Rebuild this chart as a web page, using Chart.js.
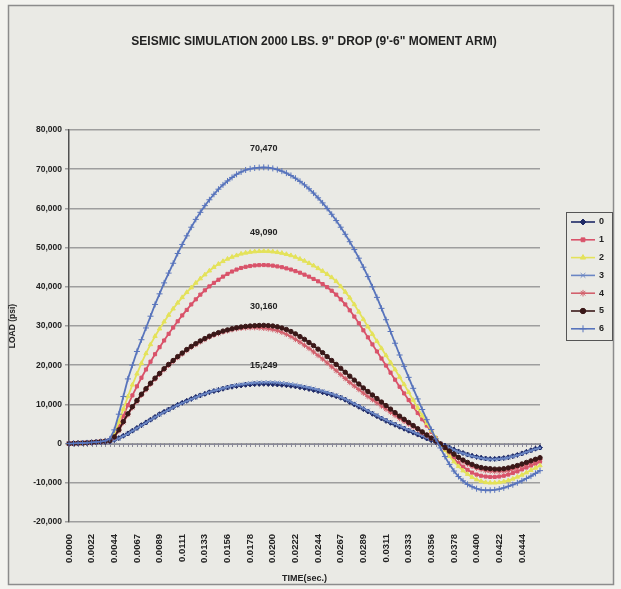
<!DOCTYPE html>
<html>
<head>
<meta charset="utf-8">
<title>Seismic Simulation</title>
<script src="https://cdn.jsdelivr.net/npm/chart.js@4/dist/chart.umd.min.js"></script>
<style>
    body { margin: 0; background: #f3f3ef; }
    #seismicChart { display: block; }
</style>
</head>
<body>
<canvas id="seismicChart" width="621" height="589"></canvas>
<script>
        // time steps (sec.), one every 1/2250 s
        const timeLabels = [
            '0.0000','0.0004','0.0009','0.0013','0.0018','0.0022','0.0027','0.0031','0.0036','0.0040',
            '0.0044','0.0049','0.0053','0.0058','0.0062','0.0067','0.0071','0.0076','0.0080','0.0084',
            '0.0089','0.0093','0.0098','0.0102','0.0107','0.0111','0.0116','0.0120','0.0124','0.0129',
            '0.0133','0.0138','0.0142','0.0147','0.0151','0.0156','0.0160','0.0164','0.0169','0.0173',
            '0.0178','0.0182','0.0187','0.0191','0.0196','0.0200','0.0204','0.0209','0.0213','0.0218',
            '0.0222','0.0227','0.0231','0.0236','0.0240','0.0244','0.0249','0.0253','0.0258','0.0262',
            '0.0267','0.0271','0.0276','0.0280','0.0284','0.0289','0.0293','0.0298','0.0302','0.0307',
            '0.0311','0.0316','0.0320','0.0324','0.0329','0.0333','0.0338','0.0342','0.0347','0.0351',
            '0.0356','0.0360','0.0364','0.0369','0.0373','0.0378','0.0382','0.0387','0.0391','0.0396',
            '0.0400','0.0404','0.0409','0.0413','0.0418','0.0422','0.0427','0.0431','0.0436','0.0440',
            '0.0444','0.0449','0.0453','0.0458','0.0462'
        ];

        // LOAD (psi) for each case
        const load0 = [
            0, 50, 100, 150, 200, 250, 300, 350, 400, 550,
            900, 1400, 2000, 2600, 3300, 4000, 4700, 5400, 6100, 6800,
            7500, 8100, 8700, 9300, 9900, 10400, 10900, 11400, 11900, 12300,
            12700, 13100, 13400, 13700, 14000, 14300, 14500, 14700, 14850, 15000,
            15100, 15180, 15230, 15249, 15220, 15170, 15100, 15000, 14900, 14750,
            14600, 14400, 14200, 13950, 13700, 13400, 13100, 12800, 12450, 12100,
            11700, 11200, 10600, 10000, 9400, 8800, 8200, 7600, 7000, 6400,
            5800, 5300, 4800, 4300, 3800, 3300, 2800, 2300, 1800, 1300,
            850, 400, 0, -500, -1000, -1500, -2000, -2400, -2800, -3100,
            -3400, -3600, -3800, -3900, -3900, -3800, -3700, -3500, -3200, -2900,
            -2500, -2100, -1700, -1300, -1000
        ];
        const load1 = [
            0, 50, 100, 150, 200, 300, 400, 500, 600, 900,
            2000, 4300, 7000, 9800, 12300, 14600, 16800, 18900, 20900, 22800,
            24600, 26300, 28000, 29600, 31200, 32700, 34100, 35500, 36800, 38000,
            39100, 40100, 41000, 41800, 42600, 43300, 43900, 44400, 44800, 45100,
            45300, 45450, 45520, 45550, 45500, 45400, 45200, 45000, 44700, 44400,
            44000, 43600, 43100, 42600, 42000, 41400, 40700, 39900, 39000, 38000,
            36800, 35500, 34000, 32400, 30700, 28900, 27100, 25300, 23500, 21700,
            19900, 18100, 16300, 14500, 12800, 11100, 9400, 7800, 6200, 4600,
            3000, 1400, -100, -1400, -2700, -3900, -5000, -5900, -6700, -7400,
            -7900, -8200, -8400, -8500, -8500, -8400, -8200, -7900, -7500, -7100,
            -6600, -6100, -5600, -5100, -4600
        ];
        const load2 = [
            0, 50, 100, 150, 200, 300, 400, 500, 600, 1000,
            2500, 5500, 8800, 12000, 15000, 17800, 20500, 23000, 25300, 27400,
            29300, 31100, 32800, 34400, 35900, 37300, 38600, 39800, 41000, 42100,
            43100, 44100, 45000, 45800, 46500, 47100, 47600, 48000, 48400, 48650,
            48850, 48980, 49060, 49090, 49050, 48950, 48800, 48600, 48300, 48000,
            47600, 47100, 46600, 46000, 45400, 44700, 44000, 43200, 42400, 41400,
            40100, 38700, 37200, 35500, 33600, 31700, 29800, 27900, 26100, 24300,
            22500, 20700, 18900, 17000, 15100, 13100, 11100, 9100, 7100, 5200,
            3300, 1500, -200, -1700, -3200, -4600, -5800, -6900, -7800, -8600,
            -9200, -9600, -9900, -10000, -10000, -9900, -9700, -9400, -9000, -8500,
            -8000, -7400, -6800, -6200, -5600
        ];
        const load3 = [
            0, 50, 100, 150, 200, 250, 300, 350, 400, 500,
            800, 1300, 1900, 2500, 3200, 3900, 4600, 5300, 6000, 6700,
            7400, 8000, 8600, 9200, 9800, 10300, 10800, 11300, 11800, 12300,
            12700, 13100, 13500, 13800, 14100, 14400, 14700, 14900, 15100, 15250,
            15400, 15500, 15550, 15600, 15620, 15600, 15550, 15450, 15300, 15150,
            14950, 14750, 14500, 14250, 14000, 13700, 13400, 13050, 12700, 12300,
            11850, 11350, 10800, 10200, 9600, 9000, 8400, 7800, 7200, 6600,
            6000, 5500, 5000, 4500, 4000, 3500, 3000, 2500, 2000, 1500,
            1000, 500, 0, -600, -1100, -1600, -2100, -2500, -2900, -3200,
            -3500, -3700, -3900, -4000, -4000, -3900, -3800, -3600, -3300, -3000,
            -2600, -2200, -1800, -1400, -1100
        ];
        const load4 = [
            0, 50, 100, 150, 200, 300, 400, 500, 600, 800,
            1600, 3300, 5400, 7400, 9200, 10800, 12400, 13800, 15200, 16500,
            17700, 18900, 20000, 21000, 22000, 22900, 23800, 24600, 25300, 26000,
            26600, 27200, 27700, 28100, 28500, 28800, 29100, 29300, 29450, 29550,
            29600, 29600, 29550, 29450, 29300, 29100, 28800, 28400, 27900, 27300,
            26600, 25900, 25100, 24300, 23400, 22500, 21600, 20600, 19600, 18600,
            17600, 16600, 15600, 14700, 13800, 12900, 12000, 11200, 10400, 9600,
            8800, 8000, 7200, 6400, 5700, 5000, 4300, 3600, 2800, 2100,
            1400, 700, -100, -1100, -2100, -3000, -3800, -4600, -5200, -5800,
            -6300, -6600, -6900, -7000, -7100, -7100, -7000, -6800, -6500, -6100,
            -5700, -5300, -4900, -4500, -4000
        ];
        const load5 = [
            0, 50, 100, 150, 200, 300, 400, 500, 600, 800,
            1700, 3500, 5600, 7600, 9400, 11000, 12600, 14000, 15400, 16700,
            17900, 19100, 20200, 21200, 22200, 23100, 24000, 24800, 25500, 26200,
            26800, 27400, 27900, 28300, 28700, 29000, 29300, 29550, 29750, 29900,
            30000, 30080, 30130, 30160, 30100, 30000, 29800, 29500, 29100, 28600,
            28000, 27300, 26600, 25800, 25000, 24100, 23200, 22200, 21200, 20200,
            19200, 18200, 17200, 16200, 15200, 14200, 13300, 12400, 11500, 10600,
            9700, 8800, 7900, 7000, 6200, 5400, 4600, 3800, 3000, 2200,
            1400, 700, -100, -1000, -1900, -2700, -3500, -4200, -4800, -5300,
            -5800, -6100, -6300, -6400, -6500, -6500, -6400, -6200, -5900, -5600,
            -5200, -4800, -4400, -4000, -3600
        ];
        const load6 = [
            0, 50, 100, 150, 200, 300, 400, 500, 700, 1200,
            3500, 7500, 12000, 16500, 20000, 23500, 26500, 29500, 32500, 35500,
            38200, 41000, 43500, 46000, 48500, 50800, 53000, 55200, 57200, 59000,
            60700, 62200, 63600, 64900, 66000, 67000, 67900, 68700, 69300, 69800,
            70100, 70300, 70420, 70470, 70400, 70200, 69900, 69500, 69000, 68400,
            67700, 66900, 66000, 65000, 63900, 62700, 61400, 60000, 58500, 56900,
            55200, 53400, 51500, 49500, 47300, 45000, 42600, 40000, 37300, 34500,
            31600, 28600, 25600, 22600, 19700, 16900, 14100, 11400, 8700, 6100,
            3600, 1200, -1100, -3300, -5300, -7000, -8400, -9500, -10400, -11000,
            -11500, -11800, -11900, -11900, -11800, -11600, -11300, -10900, -10500, -10000,
            -9500, -8900, -8300, -7600, -6900
        ];

        const seriesNames = ['0', '1', '2', '3', '4', '5', '6'];
        const yTicks = { min: -20000, max: 80000, step: 10000 };

        // peaks that carry a value label: [series, point]
        const peakLabels = [[6, 43], [2, 43], [5, 43], [0, 43]];

        const chartTitle = 'SEISMIC SIMULATION 2000 LBS. 9" DROP (9\'-6" MOMENT ARM)';

        const FONT = "'Liberation Sans', Arial, sans-serif";

        const styles = [
            { color: '#1f2a66', point: 'rectRot', radius: 2.5 },
            { color: '#d9536a', point: 'rect', radius: 2.2 },
            { color: '#e4e25a', point: 'triangle', radius: 2.5 },
            { color: '#6a86c4', point: 'crossRot', radius: 2.8 },
            { color: '#d2606c', point: 'star', radius: 2.8 },
            { color: '#3a1818', point: 'circle', radius: 2.2 },
            { color: '#5874bc', point: 'cross', radius: 3 }
        ];

        const loads = [load0, load1, load2, load3, load4, load5, load6];

        const datasets = loads.map((values, i) => ({
            label: seriesNames[i],
            data: values,
            borderColor: styles[i].color,
            backgroundColor: styles[i].color,
            borderWidth: 1.8,
            pointStyle: styles[i].point,
            pointRadius: styles[i].radius,
            pointBorderWidth: 1,
            pointBackgroundColor: styles[i].color,
            pointBorderColor: styles[i].color,
            tension: 0,
            order: 6 - i
        }));

        // frame, background and the title centred on the whole sheet
        const framePlugin = {
            id: 'frame',
            beforeDraw(chart) {
                const c = chart.ctx;
                c.save();
                c.fillStyle = '#f3f3ef';
                c.fillRect(0, 0, chart.width, chart.height);
                c.fillStyle = '#eaeae5';
                c.fillRect(8, 5, 606, 580);
                c.strokeStyle = '#8c8c8c';
                c.lineWidth = 1.5;
                c.strokeRect(8.5, 5.5, 605, 579);
                c.font = 'bold 12px ' + FONT;
                c.fillStyle = '#222';
                c.textAlign = 'center';
                c.textBaseline = 'middle';
                c.fillText(chartTitle, 314, 42);
                c.restore();
            }
        };

        // category axis crossing at zero, with a tick for every point
        const zeroAxisPlugin = {
            id: 'zeroAxis',
            beforeDatasetsDraw(chart) {
                const c = chart.ctx;
                const xs = chart.scales.x;
                const y0 = Math.round(chart.scales.y.getPixelForValue(0)) + 0.5;
                c.save();
                c.strokeStyle = '#8a8a98';
                c.lineWidth = 1;
                c.beginPath();
                c.moveTo(chart.chartArea.left, y0);
                c.lineTo(chart.chartArea.right, y0);
                for (let i = 0; i < timeLabels.length; i++) {
                    const x = Math.round(xs.getPixelForValue(i)) + 0.5;
                    c.moveTo(x, y0 - 1.5);
                    c.lineTo(x, y0 + 2.5);
                }
                c.stroke();
                c.restore();
            }
        };

        // value labels above the peaks
        const peakLabelPlugin = {
            id: 'peakLabels',
            afterDatasetsDraw(chart) {
                const c = chart.ctx;
                c.save();
                c.font = 'bold 9px ' + FONT;
                c.fillStyle = '#222';
                c.textAlign = 'center';
                c.textBaseline = 'bottom';
                peakLabels.forEach(([ds, idx]) => {
                    const pt = chart.getDatasetMeta(ds).data[idx];
                    const value = chart.data.datasets[ds].data[idx];
                    c.fillText(value.toLocaleString('en-US'), pt.x, pt.y - 14);
                });
                c.restore();
            }
        };

        // boxed legend on the right
        const legendPlugin = {
            id: 'boxLegend',
            afterDraw(chart) {
                const c = chart.ctx;
                const left = 566, top = 212, w = 46, h = 128;
                c.save();
                c.strokeStyle = '#555';
                c.lineWidth = 1;
                c.strokeRect(left + 0.5, top + 0.5, w, h);
                c.font = 'bold 9px ' + FONT;
                c.textBaseline = 'middle';
                c.textAlign = 'left';
                chart.data.datasets.forEach((ds, i) => {
                    const y = top + 10 + i * 17.8;
                    c.strokeStyle = ds.borderColor;
                    c.fillStyle = ds.borderColor;
                    c.lineWidth = 1.6;
                    c.beginPath();
                    c.moveTo(left + 5, y);
                    c.lineTo(left + 29, y);
                    c.stroke();
                    c.lineWidth = 1;
                    Chart.helpers.drawPoint(c, {
                        pointStyle: ds.pointStyle,
                        radius: ds.pointRadius + 0.5,
                        borderWidth: 1,
                        rotation: 0
                    }, left + 17, y);
                    c.fillStyle = '#222';
                    c.fillText(ds.label, left + 33, y);
                });
                c.restore();
            }
        };

        const config = {
            type: 'line',
            data: {
                labels: timeLabels,
                datasets: datasets
            },
            options: {
                responsive: false,
                animation: false,
                layout: {
                    padding: { left: 8, right: 81, top: 130, bottom: 5 }
                },
                plugins: {
                    legend: { display: false },
                    tooltip: { enabled: false },
                    title: { display: false }
                },
                scales: {
                    x: {
                        type: 'category',
                        offset: false,
                        grid: { display: false },
                        border: { display: false },
                        ticks: {
                            autoSkip: false,
                            maxRotation: 90,
                            minRotation: 90,
                            padding: 4,
                            color: '#222',
                            font: { family: FONT, size: 9.5, weight: 'bold' },
                            callback: function (value, index) {
                                return index % 5 === 0 ? timeLabels[index] : null;
                            }
                        },
                        title: {
                            display: true,
                            text: 'TIME(sec.)',
                            color: '#222',
                            font: { family: FONT, size: 9, weight: 'bold' },
                            padding: { top: 2, bottom: 0 }
                        },
                        afterFit: function (scale) {
                            scale.height = 62;
                        }
                    },
                    y: {
                        min: yTicks.min,
                        max: yTicks.max,
                        grid: {
                            color: '#9e9e9e',
                            lineWidth: 1.5,
                            tickLength: 4
                        },
                        border: { color: '#505050', width: 1.5 },
                        ticks: {
                            stepSize: yTicks.step,
                            padding: 3,
                            color: '#222',
                            font: { family: FONT, size: 8.5, weight: 'bold' },
                            callback: function (value) {
                                return value.toLocaleString('en-US');
                            }
                        },
                        title: {
                            display: true,
                            text: 'LOAD (psi)',
                            color: '#222',
                            font: { family: FONT, size: 8.5, weight: 'bold' },
                            padding: { top: 0, bottom: 3 }
                        },
                        afterFit: function (scale) {
                            scale.width = 61;
                        }
                    }
                }
            },
            plugins: [framePlugin, zeroAxisPlugin, peakLabelPlugin, legendPlugin]
        };

        // Render the chart
        const ctx = document.getElementById('seismicChart').getContext('2d');
        new Chart(ctx, config);
</script>
</body>
</html>
